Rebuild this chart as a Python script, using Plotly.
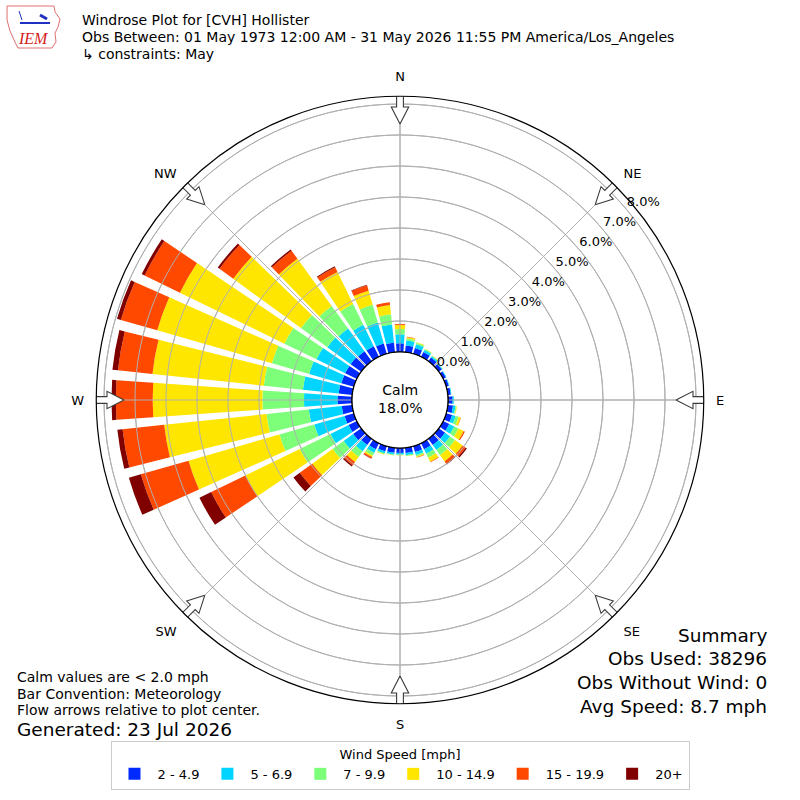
import math
import plotly.graph_objects as go

# ---------------- data ----------------
DIRECTIONS = list(range(0, 360, 10))
SPEED_BINS = ["2 - 4.9", "5 - 6.9", "7 - 9.9", "10 - 14.9", "15 - 19.9", "20+"]
BIN_COLORS = ["#002aff", "#00d4ff", "#7dff7a", "#ffe600", "#ff4800", "#800000"]

# percent frequency per direction (0,10,...,350) for each speed bin
s_2_5 = [0.28, 0.22, 0.20, 0.17, 0.15, 0.12, 0.10, 0.09, 0.10, 0.15, 0.17, 0.20,
         0.22, 0.25, 0.25, 0.22, 0.20, 0.17, 0.16, 0.16, 0.17, 0.22, 0.25, 0.32,
         0.30, 0.31, 0.34, 0.47, 0.44, 0.42, 0.42, 0.42, 0.40, 0.38, 0.35, 0.31]
s_5_7 = [0.29, 0.16, 0.12, 0.08, 0.05, 0.03, 0.02, 0.02, 0.02, 0.04, 0.08, 0.12,
         0.18, 0.20, 0.20, 0.16, 0.10, 0.07, 0.05, 0.06, 0.07, 0.13, 0.25, 0.38,
         0.65, 1.02, 1.07, 1.08, 1.16, 1.08, 1.03, 0.93, 0.90, 0.77, 0.70, 0.59]
s_7_10 = [0.17, 0.07, 0.05, 0.03, 0.02, 0.01, 0.00, 0.00, 0.00, 0.01, 0.03, 0.10,
          0.15, 0.20, 0.20, 0.14, 0.05, 0.03, 0.02, 0.02, 0.03, 0.10, 0.22, 0.44,
          1.10, 1.17, 1.37, 1.34, 1.27, 1.25, 1.15, 1.05, 0.90, 0.75, 0.60, 0.33]
s_10_15 = [0.13, 0.04, 0.02, 0.01, 0.01, 0.00, 0.00, 0.00, 0.00, 0.00, 0.02, 0.07,
           0.19, 0.30, 0.25, 0.15, 0.03, 0.01, 0.01, 0.01, 0.02, 0.05, 0.20, 0.81,
           1.95, 3.05, 3.32, 3.54, 3.61, 3.85, 3.75, 2.70, 1.88, 1.15, 0.47, 0.30]
s_15_20 = [0.03, 0.01, 0.00, 0.00, 0.00, 0.00, 0.00, 0.00, 0.00, 0.00, 0.00, 0.01,
           0.04, 0.12, 0.10, 0.02, 0.01, 0.00, 0.00, 0.00, 0.00, 0.05, 0.13, 0.50,
           1.23, 1.60, 1.35, 1.19, 1.12, 1.22, 1.27, 0.55, 0.32, 0.17, 0.18, 0.09]
s_20p = [0.00, 0.00, 0.00, 0.00, 0.00, 0.00, 0.00, 0.00, 0.00, 0.00, 0.00, 0.00,
         0.00, 0.05, 0.02, 0.00, 0.00, 0.00, 0.00, 0.00, 0.00, 0.01, 0.05, 0.25,
         0.42, 0.40, 0.17, 0.14, 0.18, 0.13, 0.10, 0.07, 0.05, 0.03, 0.02, 0.00]
SERIES = [s_2_5, s_5_7, s_7_10, s_10_15, s_15_20, s_20p]

RING_TICKS = [0, 1, 2, 3, 4, 5, 6, 7, 8]
DIR_TICKS = [0, 45, 90, 135, 180, 225, 270, 315]
DIR_LABELS = ["N", "NE", "E", "SE", "S", "SW", "W", "NW"]
CALM_PCT = 18.0

TITLE_LINES = [
    "Windrose Plot for [CVH] Hollister",
    "Obs Between: 01 May 1973 12:00 AM - 31 May 2026 11:55 PM America/Los_Angeles",
    "\u21b3 constraints: May",
]
LEFT_NOTES = ["Calm values are < 2.0 mph", "Bar Convention: Meteorology",
              "Flow arrows relative to plot center."]
GENERATED = "Generated: 23 Jul 2026"
SUMMARY = ["Summary", "Obs Used: 38296", "Obs Without Wind: 0", "Avg Speed: 8.7 mph"]

# ---------------- geometry / style ----------------
W = H = 800
CX, CY = 400, 400
OUTER_PX = 303.75
HOLE_PX = 48.0
R_MAX = 8.25
PX_PER_UNIT = (OUTER_PX - HOLE_PX) / R_MAX
RING_LABEL_ANGLE = 50
FONT = "DejaVu Sans"
GRID = "#b0b0b0"


def px(x):
    return x / W


def py(y):
    return 1 - y / H


fig = go.Figure()

for name, vals, col in zip(SPEED_BINS, SERIES, BIN_COLORS):
    fig.add_trace(go.Barpolar(
        r=vals, theta=DIRECTIONS, width=[8] * len(DIRECTIONS), name=name,
        marker=dict(color=col, line=dict(width=0)), hoverinfo="skip"))

# grid drawn above the bars (as in the reference)
circ_t = [i * 2 for i in range(181)]
for rv in RING_TICKS[1:]:
    fig.add_trace(go.Scatterpolar(r=[rv] * len(circ_t), theta=circ_t, mode="lines",
                                  line=dict(color=GRID, width=1),
                                  showlegend=False, hoverinfo="skip"))
for a in DIR_TICKS:
    fig.add_trace(go.Scatterpolar(r=[0, R_MAX], theta=[a, a], mode="lines",
                                  line=dict(color=GRID, width=1),
                                  showlegend=False, hoverinfo="skip"))

# calm circle outline (r = 0 is the hole edge)
fig.add_trace(go.Scatterpolar(r=[0] * len(circ_t), theta=circ_t, mode="lines",
                              line=dict(color="black", width=1.3),
                              showlegend=False, hoverinfo="skip"))

# hollow flow arrows at the rim pointing to the center
ARROW_SHAPE = [(276, 0), (293, 8.7), (293, 3.4), (306, 3.4), (306, -3.4),
               (293, -3.4), (293, -8.7), (276, 0)]
for a in DIR_TICKS:
    rr, tt = [], []
    for R, d in ARROW_SHAPE:
        rr.append((math.hypot(R, d) - HOLE_PX) / PX_PER_UNIT)
        tt.append(a + math.degrees(math.atan2(d, R)))
    fig.add_trace(go.Scatterpolar(r=rr, theta=tt, mode="lines", fill="toself",
                                  fillcolor="white",
                                  line=dict(color="#3a3a3a", width=1.1),
                                  cliponaxis=False, showlegend=False,
                                  hoverinfo="skip"))

# ring labels
fig.add_trace(go.Scatterpolar(r=RING_TICKS,
                              theta=[RING_LABEL_ANGLE] * len(RING_TICKS),
                              mode="text",
                              text=[f"{v:.1f}%" for v in RING_TICKS],
                              textposition="top right",
                              textfont=dict(family=FONT, size=13, color="black"),
                              cliponaxis=False, showlegend=False, hoverinfo="skip"))

dom = [(CX - OUTER_PX) / W, (CX + OUTER_PX) / W]
fig.update_layout(
    width=W, height=H, margin=dict(l=0, r=0, t=0, b=0),
    paper_bgcolor="white", plot_bgcolor="white",
    font=dict(family=FONT, size=13, color="black"),
    polar=dict(
        domain=dict(x=dom, y=dom),
        hole=HOLE_PX / OUTER_PX,
        bgcolor="white",
        barmode="stack",
        radialaxis=dict(range=[0, R_MAX], tickmode="array", tickvals=RING_TICKS,
                        showticklabels=False, ticks="", showline=False,
                        gridcolor=GRID, gridwidth=1, angle=45),
        angularaxis=dict(rotation=90, direction="clockwise", tickmode="array",
                         tickvals=DIR_TICKS, ticktext=DIR_LABELS,
                         showline=True, linecolor="black", linewidth=1.2,
                         gridcolor=GRID, gridwidth=1, ticks="outside", ticklen=9,
                         tickcolor="rgba(0,0,0,0)",
                         tickfont=dict(family=FONT, size=13, color="black")),
    ),
    legend=dict(orientation="h", x=0.5, xanchor="center", y=py(741),
                yanchor="top",
                title=dict(text="Wind Speed [mph]", side="top center",
                           font=dict(family=FONT, size=13)),
                font=dict(family=FONT, size=13), bordercolor="#cccccc",
                borderwidth=1, bgcolor="white", itemwidth=36,
                traceorder="normal"),
)

ann = []
for i, t in enumerate(TITLE_LINES):
    ann.append(dict(text=t, x=px(80), y=py(20 + 17 * i), xanchor="left",
                    yanchor="middle", font=dict(size=14)))
for i, t in enumerate(LEFT_NOTES):
    ann.append(dict(text=t, x=px(15), y=py(677 + 16.5 * i), xanchor="left",
                    yanchor="middle", font=dict(size=14)))
ann.append(dict(text=GENERATED, x=px(15), y=py(729), xanchor="left",
                yanchor="middle", font=dict(size=18.5)))
for i, t in enumerate(SUMMARY):
    ann.append(dict(text=t, x=px(769), y=py(635 + 23.7 * i), xanchor="right",
                    yanchor="middle", font=dict(size=18.5)))
ann.append(dict(text=f"Calm<br>{CALM_PCT:.1f}%", x=px(CX), y=py(CY - 1),
                xanchor="center", yanchor="middle", font=dict(size=14),
                align="center"))
ann.append(dict(text="<i>IEM</i>", x=px(33), y=py(39), xanchor="center",
                yanchor="middle",
                font=dict(family="Liberation Serif", size=16, color="#d42020")))
for a in ann:
    a.update(xref="paper", yref="paper", showarrow=False)
fig.update_layout(annotations=ann)

# logo decoration (state outline + glyph)
LOGO_OUTLINE = [(7, 6), (54, 6), (55, 12), (60, 19), (58, 27), (55, 33),
                (56, 42), (52, 48), (18, 48), (15, 42), (10, 31), (7, 20)]
path = "M " + " L ".join(f"{px(x):.4f},{py(y):.4f}" for x, y in LOGO_OUTLINE) + " Z"
fig.add_shape(type="path", path=path, xref="paper", yref="paper",
              line=dict(color="#e07070", width=1))
fig.add_shape(type="line", x0=px(20), y0=py(23), x1=px(50), y1=py(23),
              xref="paper", yref="paper", line=dict(color="#2030c0", width=2))
fig.add_shape(type="line", x0=px(40), y0=py(15), x1=px(47), y1=py(19),
              xref="paper", yref="paper", line=dict(color="#2030c0", width=3))
fig.add_shape(type="line", x0=px(19), y0=py(11), x1=px(22), y1=py(20),
              xref="paper", yref="paper", line=dict(color="#2030c0", width=1))

fig.write_html("out.html", config={"displayModeBar": False},
               post_script="document.body.style.margin='0';")
